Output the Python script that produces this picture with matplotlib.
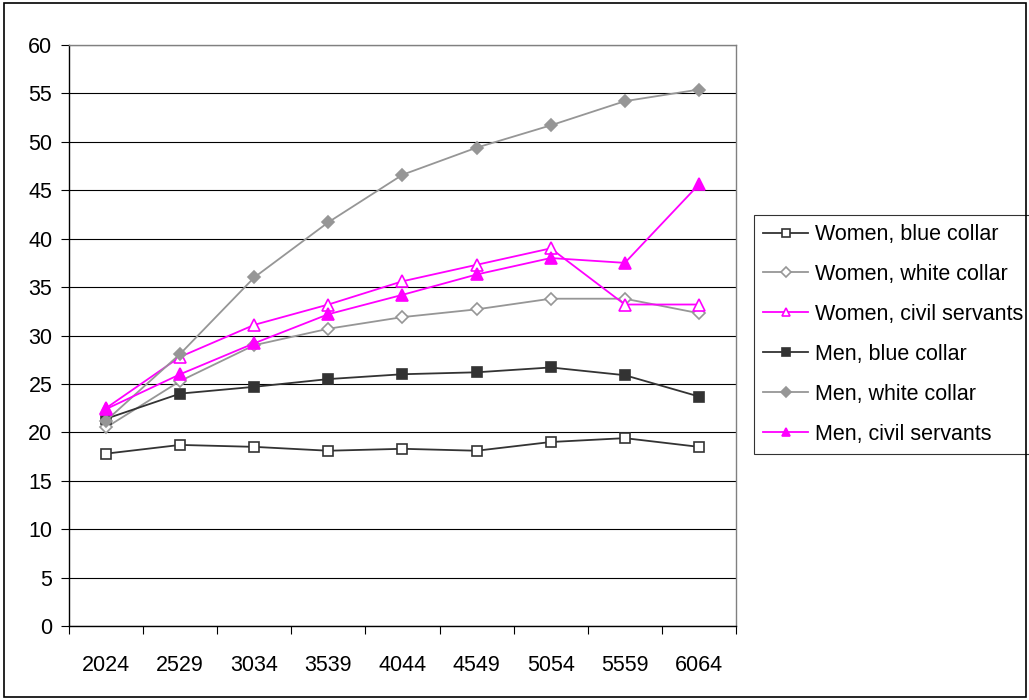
import matplotlib.pyplot as plt
from matplotlib.patches import Rectangle
from matplotlib.ticker import FixedLocator, MultipleLocator

plt.rcParams['font.family'] = ['Liberation Sans', 'DejaVu Sans']

age_groups = ['2024', '2529', '3034', '3539', '4044', '4549', '5054', '5559', '6064']

women_blue_collar = [17.8, 18.7, 18.5, 18.1, 18.3, 18.1, 19.0, 19.4, 18.5]
women_white_collar = [20.5, 25.3, 29.0, 30.7, 31.9, 32.7, 33.8, 33.8, 32.3]
women_civil_servants = [22.5, 27.8, 31.1, 33.2, 35.6, 37.3, 39.0, 33.2, 33.2]
men_blue_collar = [21.4, 24.0, 24.7, 25.5, 26.0, 26.2, 26.7, 25.9, 23.7]
men_white_collar = [21.2, 28.1, 36.0, 41.7, 46.6, 49.4, 51.7, 54.2, 55.4]
men_civil_servants = [22.4, 26.0, 29.2, 32.2, 34.2, 36.3, 38.0, 37.5, 45.6]

dark = '#333333'
grey = '#969696'
magenta = '#FF00FF'

series = [
    ('Women, blue collar', women_blue_collar, dark, 's', 'white', 7.0),
    ('Women, white collar', women_white_collar, grey, 'D', 'white', 6.0),
    ('Women, civil servants', women_civil_servants, magenta, '^', 'white', 8.0),
    ('Men, blue collar', men_blue_collar, dark, 's', dark, 7.0),
    ('Men, white collar', men_white_collar, grey, 'D', grey, 6.0),
    ('Men, civil servants', men_civil_servants, magenta, '^', magenta, 8.0),
]

fs = 15.5

fig = plt.figure(figsize=(10.29, 7.0), dpi=100)
ax = fig.add_axes([69 / 1029, 1 - 626 / 700, 667 / 1029, 581 / 700])

x = list(range(len(age_groups)))
for label, vals, col, mk, face, ms in series:
    ax.plot(x, vals, color=col, lw=1.3, marker=mk, ms=ms,
            markerfacecolor=face, markeredgecolor=col, markeredgewidth=1.2,
            label=label, clip_on=False)

ax.set_xlim(-0.5, len(age_groups) - 0.5)
ax.set_ylim(0, 60)

# horizontal gridlines every 5
ax.yaxis.set_major_locator(MultipleLocator(5))
ax.grid(axis='y', color='black', lw=0.8)
ax.set_axisbelow(True)

ax.set_xticks(x)
ax.set_xticklabels(age_groups, fontsize=fs)
ax.tick_params(axis='x', which='major', length=0, pad=21)
ax.xaxis.set_minor_locator(FixedLocator([i - 0.5 for i in range(len(age_groups) + 1)]))
ax.tick_params(axis='x', which='minor', length=6, width=0.8, direction='out', color='black')
ax.tick_params(axis='y', length=6, width=0.8, direction='out', labelsize=fs, pad=6)

for s in ['top', 'right']:
    ax.spines[s].set_color('#808080')
    ax.spines[s].set_linewidth(1.0)
for s in ['left', 'bottom']:
    ax.spines[s].set_color('black')
    ax.spines[s].set_linewidth(1.0)

leg = ax.legend(loc='upper left', bbox_to_anchor=(754 / 1029, 1 - 215 / 700),
                bbox_transform=fig.transFigure, fontsize=fs, frameon=True,
                fancybox=False, edgecolor='black', handlelength=2.1,
                handletextpad=0.3, labelspacing=0.88, borderpad=0.42,
                borderaxespad=0, markerscale=0.8)
leg.get_frame().set_linewidth(0.8)

# outer chart border
fig.patches.append(Rectangle((4 / 1029, 3 / 700), 1022 / 1029, 694 / 700,
                             transform=fig.transFigure, fill=False,
                             edgecolor='black', lw=1.2))

fig.savefig('out.png', dpi=100)
